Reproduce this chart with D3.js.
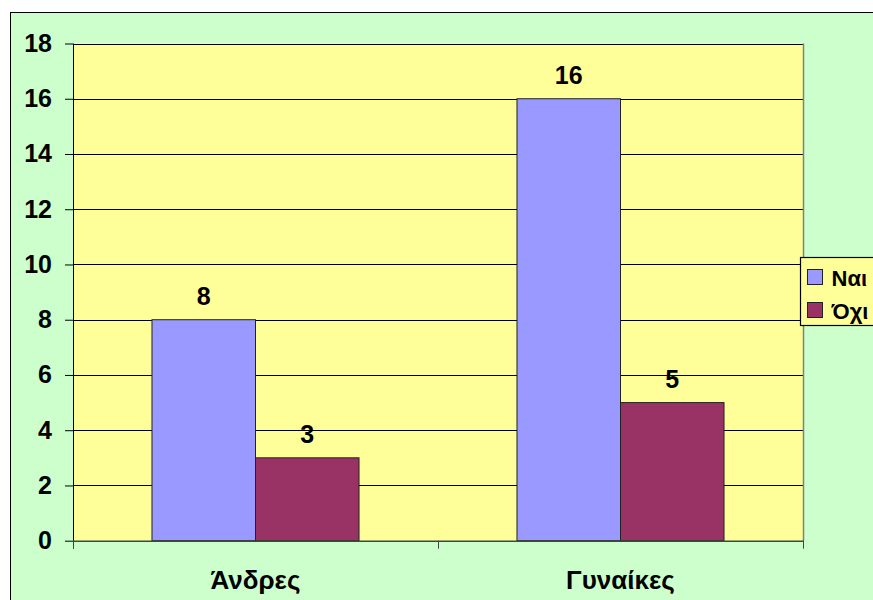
<!DOCTYPE html>
<html>
<head>
<meta charset="utf-8">
<script src="https://cdn.jsdelivr.net/npm/d3@7"></script>
<style>
  html, body { margin: 0; padding: 0; background: #ffffff; }
  svg { display: block; }
  text { font-family: "Liberation Sans", Arial, sans-serif; font-weight: bold; fill: #000; }
</style>
</head>
<body>
<svg id="chart" width="873" height="600"></svg>
<script>
// Survey answers by gender
const categories = ["Άνδρες", "Γυναίκες"];
const seriesNames = ["Ναι", "Όχι"];
const yesValues = [8, 16];
const noValues = [3, 5];
const yTicks = [0, 2, 4, 6, 8, 10, 12, 14, 16, 18];
const seriesColors = ["#9999FF", "#993366"];

const svg = d3.select("#chart");
const W = 873, H = 600;

// Chart area background with border (runs off the right and bottom edges)
svg.append("rect")
  .attr("x", 10.5).attr("y", 12.5)
  .attr("width", W + 20).attr("height", H + 20)
  .attr("fill", "#CCFFCC").attr("stroke", "#000").attr("stroke-width", 1);

const plot = { left: 73, top: 43.5, right: 803, bottom: 540.7 };

const x0 = d3.scaleBand()
  .domain(categories)
  .range([plot.left, plot.right])
  .paddingInner(0).paddingOuter(0);

const x1 = d3.scaleBand()
  .domain(seriesNames)
  .range([0, x0.bandwidth()])
  .paddingInner(0)
  .paddingOuter(0.763);

const y = d3.scaleLinear().domain([0, 18]).range([plot.bottom, plot.top]);

// Plot area
svg.append("rect")
  .attr("x", plot.left).attr("y", plot.top)
  .attr("width", plot.right - plot.left).attr("height", plot.bottom - plot.top)
  .attr("fill", "#FFFF99");

// Horizontal gridlines
svg.append("g")
  .selectAll("line")
  .data(yTicks.filter(d => d > 0))
  .join("line")
  .attr("x1", plot.left).attr("x2", plot.right)
  .attr("y1", d => Math.round(y(d)) + 0.5).attr("y2", d => Math.round(y(d)) + 0.5)
  .attr("stroke", "#000").attr("stroke-width", 1);

// Right border of plot area
svg.append("line")
  .attr("x1", plot.right + 0.5).attr("x2", plot.right + 0.5)
  .attr("y1", plot.top).attr("y2", plot.bottom)
  .attr("stroke", "#808080").attr("stroke-width", 1.5);

const rows = categories.map((c, i) => ({ cat: c, values: [yesValues[i], noValues[i]] }));

// Bars
const groups = svg.append("g")
  .selectAll("g")
  .data(rows)
  .join("g")
  .attr("transform", d => `translate(${x0(d.cat)},0)`);

groups.selectAll("rect")
  .data(d => d.values.map((v, j) => ({ name: seriesNames[j], value: v, color: seriesColors[j] })))
  .join("rect")
  .attr("x", d => x1(d.name))
  .attr("y", d => y(d.value))
  .attr("width", x1.bandwidth())
  .attr("height", d => plot.bottom - y(d.value))
  .attr("fill", d => d.color)
  .attr("stroke", "#222").attr("stroke-width", 1);

// Value labels
groups.selectAll("text")
  .data(d => d.values.map((v, j) => ({ name: seriesNames[j], value: v })))
  .join("text")
  .attr("x", d => x1(d.name) + x1.bandwidth() / 2)
  .attr("y", d => y(d.value) - 15)
  .attr("text-anchor", "middle")
  .attr("font-size", 25)
  .text(d => d.value);

// Y axis
const yAxis = svg.append("g")
  .attr("transform", `translate(${plot.left},0)`)
  .call(d3.axisLeft(y).tickValues(yTicks).tickSize(8).tickPadding(13).tickFormat(d3.format("d")));
yAxis.select(".domain").attr("stroke", "#000").attr("d", `M0.5,${plot.top}V${plot.bottom + 8}`);
yAxis.selectAll(".tick line").attr("stroke", "#000");
yAxis.selectAll(".tick text")
  .attr("font-size", 25)
  .attr("font-family", "Liberation Sans, Arial, sans-serif")
  .attr("font-weight", "bold")
  .attr("fill", "#000");

// X axis with category separators
const xAxisG = svg.append("g").attr("transform", `translate(0,${plot.bottom})`);
xAxisG.append("line")
  .attr("x1", plot.left).attr("x2", plot.right + 1)
  .attr("y1", 0.5).attr("y2", 0.5)
  .attr("stroke", "#444").attr("stroke-width", 1.5);
const separators = [plot.left].concat(categories.map(c => x0(c) + x0.bandwidth()));
xAxisG.selectAll("line.sep")
  .data(separators)
  .join("line")
  .attr("class", "sep")
  .attr("x1", d => Math.round(d) + 0.5).attr("x2", d => Math.round(d) + 0.5)
  .attr("y1", 0).attr("y2", 8)
  .attr("stroke", "#444");
xAxisG.selectAll("text")
  .data(categories)
  .join("text")
  .attr("x", d => x0(d) + x0.bandwidth() / 2)
  .attr("y", 48)
  .attr("text-anchor", "middle")
  .attr("font-size", 26)
  .text(d => d);

// Legend
const legend = svg.append("g").attr("transform", "translate(800.5,257.5)");
legend.append("rect")
  .attr("width", 90).attr("height", 68)
  .attr("fill", "#FFFF99").attr("stroke", "#000").attr("stroke-width", 1.2);
const items = legend.selectAll("g.item")
  .data(seriesNames)
  .join("g")
  .attr("class", "item")
  .attr("transform", (d, i) => `translate(7,${12 + i * 33})`);
items.append("rect")
  .attr("width", 15).attr("height", 15)
  .attr("fill", (d, i) => seriesColors[i])
  .attr("stroke", "#222").attr("stroke-width", 1);
items.append("text")
  .attr("x", 24).attr("y", 16)
  .attr("font-size", 22)
  .text(d => d);
</script>
</body>
</html>
